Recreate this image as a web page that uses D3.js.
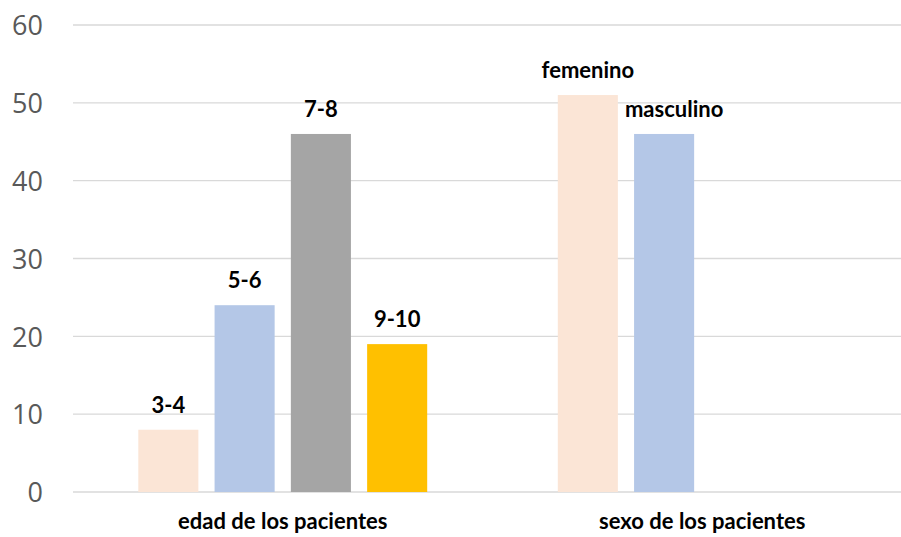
<!DOCTYPE html>
<html>
<head>
<meta charset="utf-8">
<script src="https://cdn.jsdelivr.net/npm/d3@7/dist/d3.min.js"></script>
<style>
  html, body { margin: 0; padding: 0; background: #fff; }
  svg { display: block; }
</style>
</head>
<body>
<svg id="chart" width="901" height="537"></svg>
<script>
// Categories along the x axis
const categories = ["edad de los pacientes", "sexo de los pacientes"];

// Four series; the second category only uses the first two
const seriesColors = ["#FBE5D6", "#B4C7E7", "#A5A5A5", "#FFC000"];
const seriesValues = [
  [8, 51],
  [24, 46],
  [46, null],
  [19, null]
];
const pointLabels = [
  ["3-4", "femenino"],
  ["5-6", "masculino"],
  ["7-8", null],
  ["9-10", null]
];

const yTicks = [0, 10, 20, 30, 40, 50, 60];

(function draw() {
  const svg = d3.select("#chart");
  const plotLeft = 73, plotRight = 912, plotTop = 25, plotBottom = 492;

  const x0 = d3.scaleBand()
    .domain(categories)
    .range([plotLeft, plotRight])
    .paddingInner(0)
    .paddingOuter(0);

  const innerPad = 65.3;
  const x1 = d3.scaleBand()
    .domain(d3.range(seriesValues.length))
    .range([innerPad, x0.bandwidth() - innerPad])
    .paddingInner(0.2125)
    .paddingOuter(0);

  const y = d3.scaleLinear().domain([0, 60]).range([plotBottom, plotTop]);

  // Gridlines
  svg.append("g")
    .selectAll("line")
    .data(yTicks)
    .join("line")
    .attr("x1", plotLeft)
    .attr("x2", plotRight)
    .attr("y1", d => y(d))
    .attr("y2", d => y(d))
    .attr("stroke", "#D9D9D9")
    .attr("stroke-width", 1.3);

  // Y axis labels
  const yAxis = d3.axisLeft(y).tickValues(yTicks).tickSize(0).tickPadding(0);
  const yg = svg.append("g").attr("transform", `translate(${plotLeft - 30},0)`).call(yAxis);
  yg.select(".domain").remove();
  yg.selectAll("text")
    .attr("dy", "0.36em")
    .attr("font-family", "'Open Sans', sans-serif")
    .attr("font-size", 27)
    .attr("fill", "#595959");

  // Bars
  const points = [];
  seriesValues.forEach((vals, s) => {
    vals.forEach((v, c) => {
      if (v != null) points.push({ s, c, v, label: pointLabels[s][c] });
    });
  });

  svg.append("g")
    .selectAll("rect")
    .data(points)
    .join("rect")
    .attr("x", d => x0(categories[d.c]) + x1(d.s))
    .attr("width", x1.bandwidth())
    .attr("y", d => y(d.v))
    .attr("height", d => y(0) - y(d.v))
    .attr("fill", d => seriesColors[d.s]);

  // Point labels
  const labelShift = { "masculino": 10 };
  svg.append("g")
    .selectAll("text")
    .data(points)
    .join("text")
    .attr("x", d => x0(categories[d.c]) + x1(d.s) + x1.bandwidth() / 2 + (labelShift[d.label] || 0))
    .attr("y", d => y(d.v) - 17)
    .attr("text-anchor", "middle")
    .attr("font-family", "Lato, 'Open Sans', sans-serif")
    .attr("font-weight", "bold")
    .attr("font-size", 22)
    .attr("fill", "#000")
    .text(d => d.label);

  // Category labels
  const xAxis = d3.axisBottom(x0).tickSize(0).tickPadding(0);
  const xg = svg.append("g").attr("transform", `translate(0,${plotBottom + 37})`).call(xAxis);
  xg.select(".domain").remove();
  xg.selectAll("text")
    .attr("dy", 0)
    .attr("font-family", "Lato, 'Open Sans', sans-serif")
    .attr("font-weight", "bold")
    .attr("font-size", 22)
    .attr("fill", "#000");
})();
</script>
</body>
</html>
